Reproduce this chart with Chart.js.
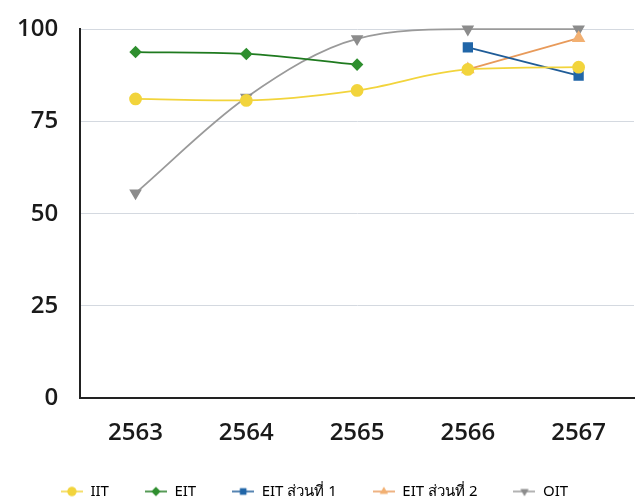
<!DOCTYPE html>
<html><head><meta charset="utf-8">
<script src="https://cdn.jsdelivr.net/npm/chart.js@4/dist/chart.umd.min.js"></script>
<style>html,body{margin:0;padding:0;background:#fff}#c{display:block}</style>
</head><body>
<canvas id="c" width="642" height="503"></canvas>
<script>
const categories = ['2563','2564','2565','2566','2567'];
const seriesNames = ['IIT','EIT','EIT ส่วนที่ 1','EIT ส่วนที่ 2','OIT'];
const iit  = [81.1, 80.7, 83.4, 89.1, 89.7];
const eit  = [93.8, 93.3, 90.4, null, null];
const eit1 = [null, null, null, 95.1, 87.4];
const eit2 = [null, null, null, 89.1, 97.6];
const oit  = [55.6, 81.5, 97.4, 100, 100];
const yTicks = [0, 25, 50, 75, 100];

const styles = [
  {color:'#f2d43c', border:'#f2d43c', point:'circle', r:5.5, rot:0},
  {color:'#2f8f2f', border:'#1f7a1f', point:'rectRot', r:5, rot:0},
  {color:'#2166a8', border:'#1f5c98', point:'rect', r:6, rot:0},
  {color:'#f2b072', border:'#e89a5a', point:'triangle', r:6, rot:0},
  {color:'#8c8c8c', border:'#9a9a9a', point:'triangle', r:5.5, rot:180}
];
const values = [iit, eit, eit1, eit2, oit];

function legendIcon(s){
  const cv = document.createElement('canvas');
  cv.width = 22; cv.height = 12;
  const ctx = cv.getContext('2d');
  ctx.strokeStyle = s.border; ctx.lineWidth = 1.5;
  ctx.beginPath(); ctx.moveTo(0,6); ctx.lineTo(22,6); ctx.stroke();
  ctx.fillStyle = s.color;
  Chart.helpers.drawPoint(ctx, {pointStyle:s.point, radius:4.5, rotation:s.rot, borderWidth:0}, 11, 6);
  ctx.fill();
  return cv;
}

const datasets = values.map((v,i)=>({
  label: seriesNames[i],
  data: v,
  borderColor: styles[i].border,
  backgroundColor: styles[i].color,
  pointBackgroundColor: styles[i].color,
  pointBorderColor: styles[i].color,
  pointStyle: styles[i].point,
  pointRotation: styles[i].rot,
  pointRadius: styles[i].r,
  borderWidth: 1.8,
  cubicInterpolationMode: 'monotone',
  spanGaps: false,
  clip: false
}));

const tickFont = {family: 'Open Sans', size: 24, weight: '600'};

new Chart(document.getElementById('c'), {
  type: 'line',
  data: {labels: categories, datasets},
  options: {
    responsive: false,
    animation: false,
    layout: {padding: {left: -5, right: 8, top: 5, bottom: -6}},
    scales: {
      x: {
        offset: true,
        grid: {display: false, drawTicks: false},
        border: {display: true, color: '#222', width: 2},
        ticks: {padding: 21, color: '#1a1a1a', font: tickFont},
        afterFit: s => { s.height -= 21; }
      },
      y: {
        min: 0, max: 100,
        afterBuildTicks: ax => { ax.ticks = yTicks.map(v => ({value: v})); },
        grid: {color: '#d4d9e0', lineWidth: 1, drawTicks: false},
        border: {display: true, color: '#222', width: 2},
        ticks: {padding: 22, color: '#1a1a1a', font: {family: 'Open Sans', size: 24, weight: '600', lineHeight: 0.6}}
      }
    },
    plugins: {
      tooltip: {enabled: false},
      legend: {
        position: 'bottom',
        labels: {
          usePointStyle: true,
          pointStyleWidth: 22,
          padding: 36,
          color: '#555',
          font: {family: 'Noto Sans', size: 15},
          generateLabels: chart => chart.data.datasets.map((d,i)=>({
            text: d.label, pointStyle: legendIcon(styles[i]), fillStyle: styles[i].color,
            strokeStyle: styles[i].border, lineWidth: 0, datasetIndex: i, hidden: false
          }))
        }
      }
    }
  }
});
</script>
</body></html>
